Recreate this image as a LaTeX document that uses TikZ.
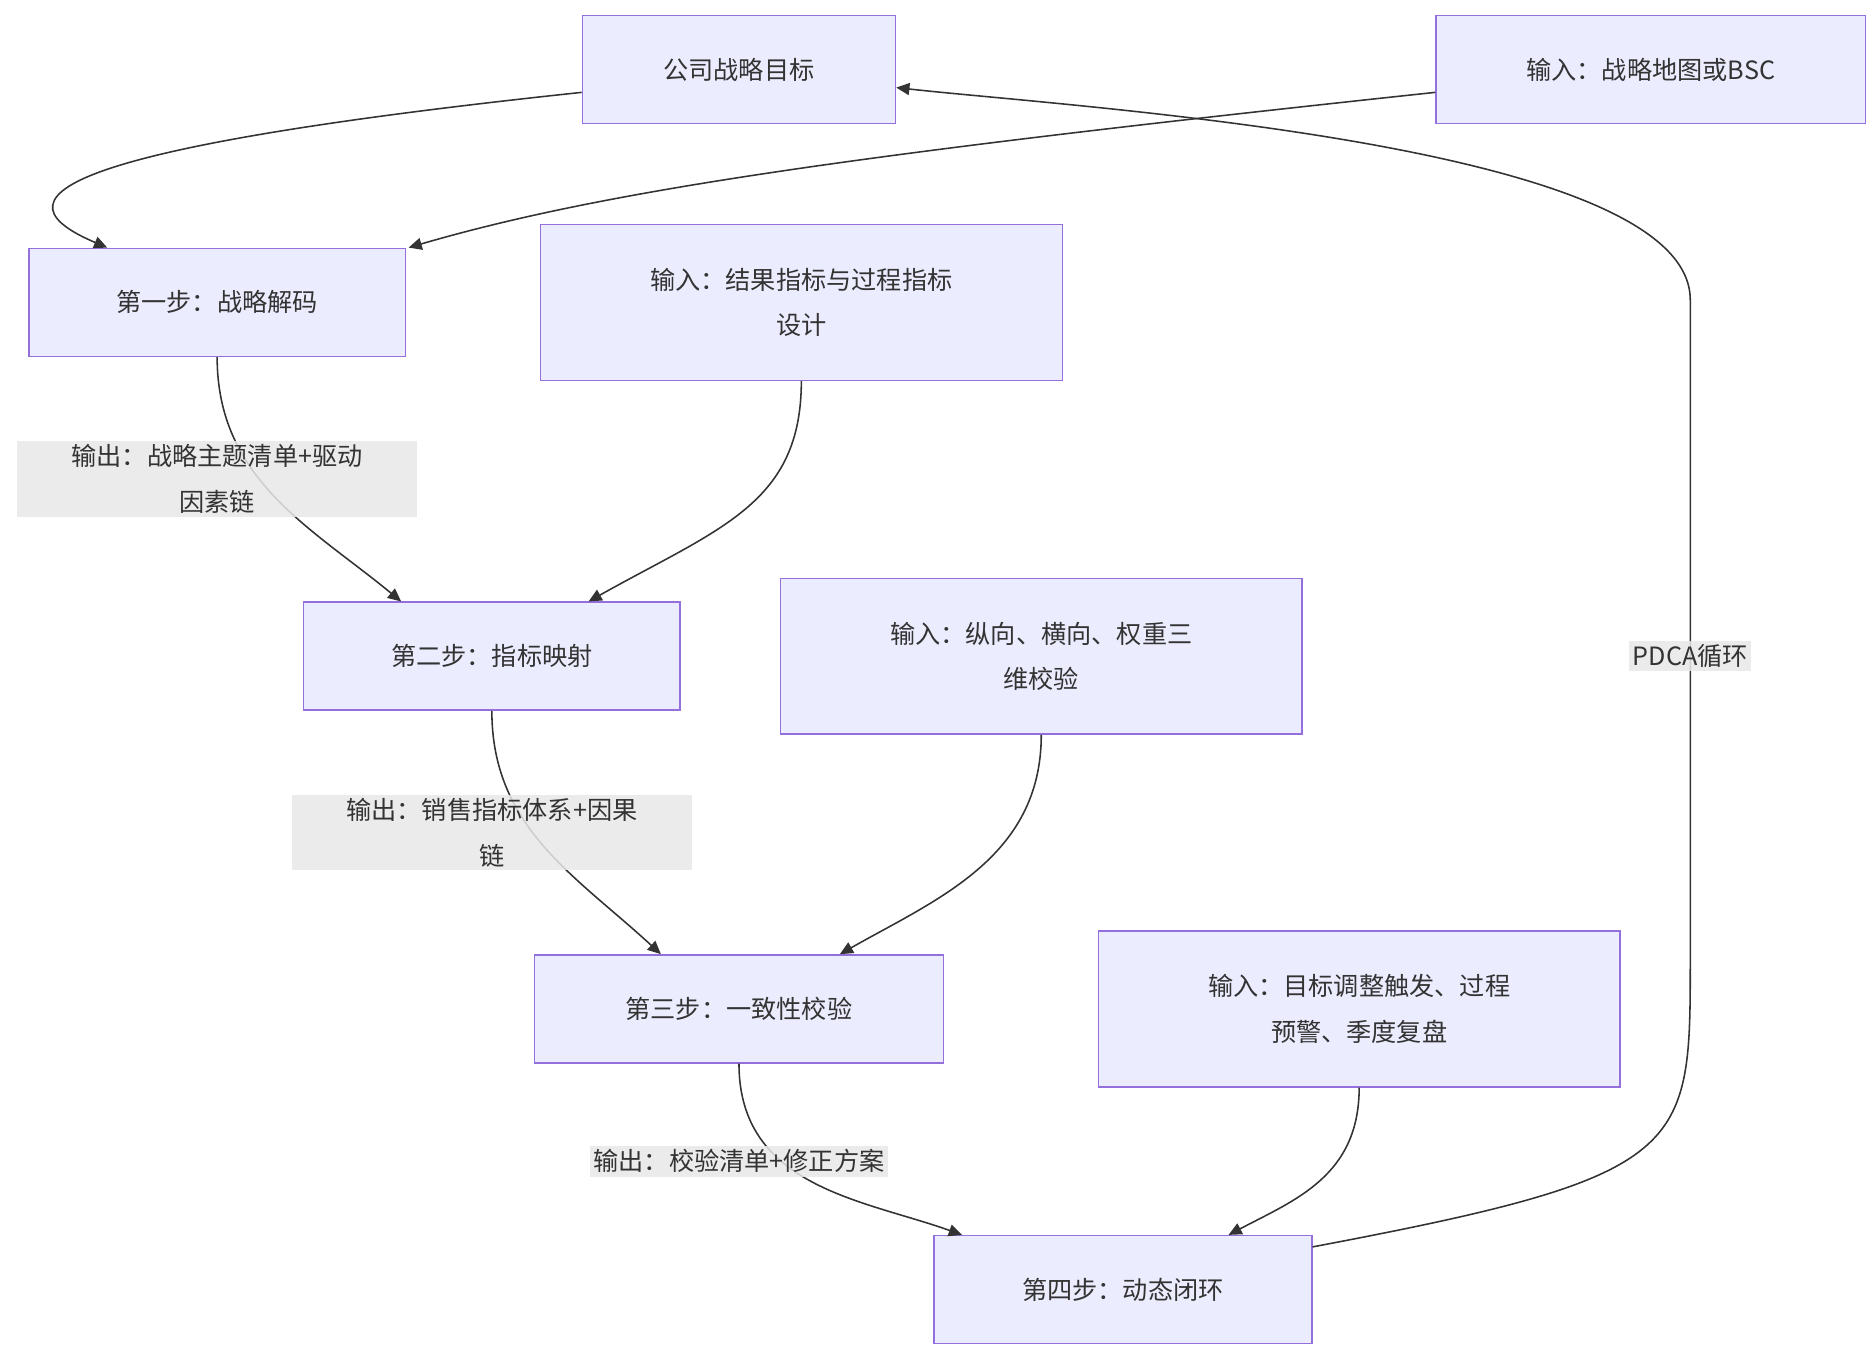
\documentclass[tikz,border=0pt]{standalone}
\usepackage{fontspec}
\setmainfont{Noto Sans CJK SC}
\usetikzlibrary{arrows.meta,positioning,calc}
\definecolor{boxfill}{HTML}{ECECFF}
\definecolor{boxline}{HTML}{9370DB}
\definecolor{edgeline}{HTML}{333333}
\definecolor{labelgray}{HTML}{E8E8E8}
\tikzset{step node/.style={rectangle,draw=boxline,fill=boxfill,line width=1.2pt,minimum height=90pt,align=center,font=\fontsize{21}{38}\selectfont,text=edgeline},
         input node/.style={step node,minimum height=130pt,minimum width=435pt},
         edge label/.style={rectangle,fill=labelgray,fill opacity=0.85,text opacity=1,align=center,font=\fontsize{21}{38}\selectfont,text=edgeline,inner sep=3pt},
         flow/.style={draw=edgeline,line width=1.3pt,-{Triangle[length=11pt,width=10pt]}},
}
\begin{document}
\begin{tikzpicture}[x=1pt,y=-1pt]
\useasboundingbox (0,0) rectangle (1563,1130);
% boxes
\node[step node,minimum width=261pt] (goal) at (616,58) {公司战略目标};
\node[step node,minimum width=358pt] (bsc) at (1376,58) {输入：战略地图或BSC};
\node[step node,minimum width=314pt] (s1) at (181,252) {第一步：战略解码};
\node[input node] (in1) at (668,252) {输入：结果指标与过程指标\\设计};
\node[step node,minimum width=314pt] (s2) at (410,547) {第二步：指标映射};
\node[input node] (in2) at (868,547) {输入：纵向、横向、权重三\\维校验};
\node[step node,minimum width=341pt] (s3) at (616,841) {第三步：一致性校验};
\node[input node] (in3) at (1133,841) {输入：目标调整触发、过程\\预警、季度复盘};
\node[step node,minimum width=315pt] (s4) at (936,1075) {第四步：动态闭环};
% connectors
\draw[flow] ($(goal.west)+(0,19)$) .. controls (80,120) and (-20,160) .. ($(s1.north west)+(66,0)$);
\draw[flow] ($(bsc.west)+(0,19)$) .. controls (700,130) and (500,160) .. ($(s1.north east)+(2,0)$);
\draw[flow] (s1.south) .. controls (181,400) and (260,440) .. ($(s2.north west)+(82,0)$);
\draw[flow] (in1.south) .. controls (668,420) and (600,440) .. ($(s2.north east)+(-77,0)$);
\draw[flow] (s2.south) .. controls (410,690) and (480,730) .. ($(s3.north west)+(106,0)$);
\draw[flow] (in2.south) .. controls (868,715) and (780,750) .. ($(s3.north east)+(-87,0)$);
\draw[flow] (s3.south) .. controls (616,990) and (720,1000) .. ($(s4.north west)+(24,0)$);
\draw[flow] (in3.south) .. controls (1133,980) and (1080,1000) .. ($(s4.north east)+(-70,0)$);
\draw[flow] ($(s4.north east)+(0,10)$) .. controls (1409,980) and (1409,960) .. (1409,800)
   -- (1409,250) .. controls (1409,120) and (900,90) .. ($(goal.east)+(0,15)$);
% edge labels
\node[edge label,minimum width=334pt] (o1) at (181,399) {输出：战略主题清单+驱动\\因素链};
\node[edge label,minimum width=334pt] (o2) at (410,694) {输出：销售指标体系+因果\\链};
\node[edge label] (o3) at (616,968) {输出：校验清单+修正方案};
\node[edge label] (pdca) at (1409,547) {PDCA循环};
\end{tikzpicture}
\end{document}
